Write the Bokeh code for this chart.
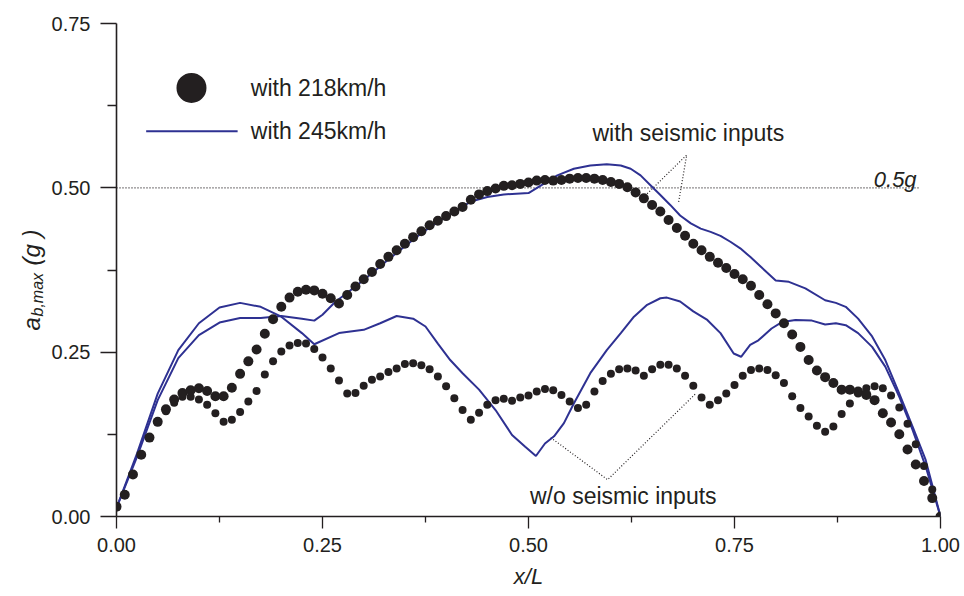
import math
from bokeh.plotting import figure
from bokeh.layouts import row
from bokeh.models import Range1d, FixedTicker, NumeralTickFormatter, Label
from bokeh.core.properties import value
from bokeh.embed import file_html
from bokeh.resources import INLINE

# ---------------- data ----------------
# stations along the span (x/L), one dot every 0.01
dot_x = [round(i * 0.01, 2) for i in range(101)]

# a_b,max (g), 218 km/h, with seismic inputs (large dots)
with_218 = [
    0.015, 0.033, 0.064, 0.094, 0.120, 0.144, 0.163, 0.178, 0.188, 0.192,
    0.195, 0.191, 0.183, 0.183, 0.196, 0.217, 0.236, 0.254, 0.278, 0.300,
    0.319, 0.333, 0.342, 0.345, 0.344, 0.339, 0.332, 0.324, 0.337, 0.350,
    0.361, 0.372, 0.384, 0.395, 0.405, 0.415, 0.425, 0.434, 0.443, 0.450,
    0.457, 0.464, 0.471, 0.482, 0.490, 0.495, 0.499, 0.503, 0.504, 0.506,
    0.508, 0.511, 0.512, 0.511, 0.512, 0.514, 0.515, 0.515, 0.514, 0.512,
    0.509, 0.506, 0.501, 0.493, 0.484, 0.474, 0.464, 0.451, 0.439, 0.427,
    0.415, 0.405, 0.395, 0.386, 0.378, 0.369, 0.361, 0.351, 0.337, 0.323,
    0.309, 0.294, 0.277, 0.258, 0.238, 0.222, 0.212, 0.203, 0.193, 0.193,
    0.190, 0.185, 0.177, 0.157, 0.143, 0.125, 0.102, 0.079, 0.054, 0.028,
    0.000,
]

# a_b,max (g), 218 km/h, without seismic inputs (small dots)
wo_218 = [
    0.015, 0.033, 0.064, 0.094, 0.120, 0.144, 0.160, 0.173, 0.182, 0.182,
    0.178, 0.170, 0.157, 0.144, 0.147, 0.159, 0.175, 0.191, 0.216, 0.236,
    0.251, 0.260, 0.264, 0.263, 0.255, 0.242, 0.225, 0.207, 0.187, 0.188,
    0.199, 0.208, 0.213, 0.220, 0.225, 0.232, 0.233, 0.230, 0.224, 0.213,
    0.198, 0.180, 0.162, 0.147, 0.158, 0.170, 0.177, 0.179, 0.176, 0.181,
    0.184, 0.190, 0.194, 0.192, 0.185, 0.175, 0.165, 0.170, 0.190, 0.206,
    0.217, 0.224, 0.225, 0.222, 0.214, 0.224, 0.231, 0.231, 0.225, 0.214,
    0.199, 0.181, 0.170, 0.177, 0.187, 0.200, 0.214, 0.223, 0.225, 0.223,
    0.215, 0.203, 0.183, 0.165, 0.152, 0.138, 0.129, 0.137, 0.156, 0.172,
    0.187, 0.195, 0.198, 0.195, 0.184, 0.166, 0.141, 0.110, 0.077, 0.041,
    0.000,
]

# 245 km/h, without seismic inputs (solid line)
wo_245_x = [0.0, 0.025, 0.05, 0.075, 0.1, 0.125, 0.15, 0.175, 0.2, 0.225,
            0.24, 0.27, 0.30, 0.32, 0.34, 0.36, 0.375, 0.39, 0.405, 0.42,
            0.44, 0.46, 0.48, 0.496, 0.509, 0.52, 0.531, 0.543, 0.555, 0.575,
            0.595, 0.612, 0.628, 0.644, 0.66, 0.668, 0.684, 0.70, 0.717, 0.733,
            0.749, 0.758, 0.769, 0.779, 0.795, 0.808, 0.824, 0.844, 0.86, 0.873,
            0.885, 0.90, 0.917, 0.933, 0.95, 0.966, 0.982, 1.0]
wo_245_y = [0.013, 0.096, 0.187, 0.253, 0.294, 0.318, 0.325, 0.319, 0.304, 0.279,
            0.262, 0.279, 0.284, 0.294, 0.305, 0.301, 0.289, 0.263, 0.238, 0.218,
            0.193, 0.162, 0.124, 0.106, 0.092, 0.111, 0.122, 0.142, 0.172, 0.218,
            0.253, 0.279, 0.304, 0.322, 0.332, 0.333, 0.327, 0.312, 0.299, 0.279,
            0.248, 0.243, 0.261, 0.268, 0.286, 0.296, 0.299, 0.298, 0.292, 0.294,
            0.291, 0.279, 0.258, 0.228, 0.182, 0.132, 0.076, 0.0]

# 245 km/h, with seismic inputs (solid line)
with_245_x = [0.0, 0.025, 0.05, 0.075, 0.1, 0.125, 0.15, 0.175, 0.2, 0.225,
              0.24, 0.25, 0.265, 0.29, 0.31, 0.33, 0.35, 0.37, 0.39, 0.41,
              0.43, 0.45, 0.47, 0.50, 0.535, 0.555, 0.575, 0.595, 0.612, 0.624,
              0.636, 0.648, 0.66, 0.672, 0.684, 0.697, 0.709, 0.721, 0.733, 0.745,
              0.757, 0.769, 0.782, 0.80, 0.816, 0.836, 0.86, 0.873, 0.885, 0.90,
              0.917, 0.933, 0.95, 0.966, 0.982, 1.0]
with_245_y = [0.013, 0.091, 0.177, 0.241, 0.276, 0.295, 0.302, 0.302, 0.305, 0.301,
              0.298, 0.307, 0.326, 0.350, 0.370, 0.391, 0.411, 0.431, 0.448, 0.464,
              0.479, 0.486, 0.490, 0.492, 0.519, 0.529, 0.534, 0.536, 0.534, 0.529,
              0.519, 0.504, 0.489, 0.474, 0.458, 0.446, 0.438, 0.433, 0.427, 0.418,
              0.408, 0.395, 0.380, 0.359, 0.357, 0.347, 0.329, 0.325, 0.319, 0.301,
              0.274, 0.238, 0.187, 0.137, 0.086, 0.0]

x_ticks = [0.0, 0.25, 0.5, 0.75, 1.0]
x_minor = [0.125, 0.375, 0.625, 0.875]
y_ticks = [0.0, 0.25, 0.5, 0.75]
y_minor = [0.125, 0.375, 0.625]
ref_level = 0.5          # 0.5g reference

# ---------------- styling ----------------
INK = "#231f20"
BLUE = "#2e3192"
FONT = "Liberation Sans"
TXT = "23px"
H = 596
STRIP = 46

p = figure(frame_width=824, frame_height=493,
           x_range=Range1d(0, 1), y_range=Range1d(0, 0.75),
           output_backend="svg", toolbar_location=None,
           min_border_left=116 - STRIP, min_border_right=24,
           min_border_top=23, min_border_bottom=80,
           background_fill_color="white", border_fill_color="white")
p.outline_line_color = None
p.grid.visible = False

for ax, ticks, minor in ((p.xaxis[0], x_ticks, x_minor),
                         (p.yaxis[0], y_ticks, y_minor)):
    ax.ticker = FixedTicker(ticks=ticks, minor_ticks=minor)
    ax.formatter = NumeralTickFormatter(format="0.00")
    ax.axis_line_color = INK
    ax.axis_line_width = 1.6
    ax.major_tick_line_color = INK
    ax.minor_tick_line_color = INK
    ax.major_tick_line_width = 1.3
    ax.minor_tick_line_width = 1.3
    ax.major_tick_in = 0
    ax.minor_tick_in = 0
    ax.major_label_text_font = FONT
    ax.major_label_text_font_size = "20px"
    ax.major_label_text_color = INK

p.xaxis.major_tick_out = 12
p.xaxis.minor_tick_out = 6
p.xaxis.major_label_standoff = 9
p.xaxis.axis_label = "x/L"
p.xaxis.axis_label_text_font = FONT
p.xaxis.axis_label_text_font_size = "22px"
p.xaxis.axis_label_text_font_style = "italic"
p.xaxis.axis_label_text_color = INK
p.xaxis.axis_label_standoff = 9
p.yaxis.major_tick_out = 16
p.yaxis.minor_tick_out = 9
p.yaxis.major_label_standoff = 10

# 0.5g reference line
p.line(x=[0, 0.975], y=[ref_level, ref_level], line_color=INK, line_width=1.2,
       line_dash="1 2")

# leader lines for the annotations
p.multi_line(xs=[[0.644, 0.692, 0.682], [0.527, 0.596, 0.703]],
             ys=[[0.491, 0.550, 0.477], [0.120, 0.056, 0.187]],
             line_color=INK, line_width=1.2, line_dash="1 2")

# series
p.line(wo_245_x, wo_245_y, line_color=BLUE, line_width=2)
p.line(with_245_x, with_245_y, line_color=BLUE, line_width=2)
p.scatter(dot_x, wo_218, size=8, fill_color=INK, line_color=None)
p.scatter(dot_x, with_218, size=10, fill_color=INK, line_color=None)

# legend
p.scatter([0.091], [0.652], size=30, fill_color=INK, line_color=None)
p.line([0.036, 0.147], [0.586, 0.586], line_color=BLUE, line_width=2)
p.text(x=[0.163, 0.163], y=[0.652, 0.586], text=["with 218km/h", "with 245km/h"],
       text_font=value(FONT), text_font_size=TXT, text_color=INK,
       text_baseline="middle", text_align="left")

# annotations
p.text(x=[0.694, 0.615], y=[0.583, 0.031],
       text=["with seismic inputs", "w/o seismic inputs"],
       text_font=value(FONT), text_font_size=TXT, text_color=INK,
       text_baseline="middle", text_align="center")
p.add_layout(Label(x=0.971, y=0.512, text="0.5g", text_font=FONT,
                   text_font_size="22px", text_font_style="italic",
                   text_color=INK, text_align="right",
                   text_baseline="alphabetic"))

# y-axis title (with subscript) drawn in a narrow strip to the left
lab = figure(frame_width=STRIP, frame_height=H,
             x_range=Range1d(0, STRIP), y_range=Range1d(0, H),
             x_axis_location=None, y_axis_location=None,
             output_backend="svg", toolbar_location=None, min_border=0,
             background_fill_color="white", border_fill_color="white")
lab.grid.visible = False
lab.outline_line_color = None
rot = math.pi / 2
lab.text(x=[31, 31], y=[H - 307, H - 242], text=["a", "(g )"], angle=rot,
         text_font=value(FONT), text_font_size="24px", text_font_style="italic",
         text_color=INK, text_align="left", text_baseline="middle")
lab.text(x=[36.5], y=[H - 293], text=["b,max"], angle=rot,
         text_font=value(FONT), text_font_size="16px", text_font_style="italic",
         text_color=INK, text_align="left", text_baseline="middle")

layout = row(lab, p)
open("out.html", "w").write(file_html(layout, INLINE))
